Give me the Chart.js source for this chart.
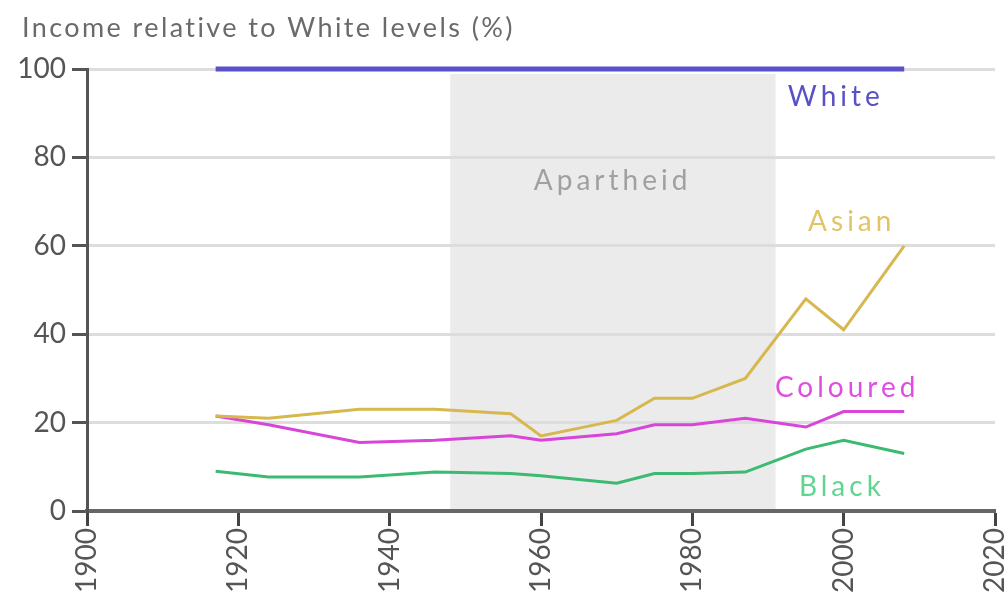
<!DOCTYPE html>
<html lang="en">
<head>
  <meta charset="UTF-8">
  <title>Income relative to White levels</title>
  <script src="https://cdn.jsdelivr.net/npm/chart.js"></script>
  <style>
    body { margin: 0; background: #fff; }
    #wrap { width: 1005px; height: 601px; position: relative; }
  </style>
</head>
<body>
<div id="wrap"><canvas id="incomeChart"></canvas></div>
<script>
  // survey years and income as % of White level
  const years    = [1917, 1924, 1936, 1946, 1956, 1960, 1970, 1975, 1980, 1987, 1995, 2000, 2008];
  const white    = [100, 100, 100, 100, 100, 100, 100, 100, 100, 100, 100, 100, 100];
  const asian    = [21.5, 21, 23, 23, 22, 17, 20.5, 25.5, 25.5, 30, 48, 41, 60];
  const coloured = [21.5, 19.5, 15.5, 16, 17, 16, 17.5, 19.5, 19.5, 21, 19, 22.5, 22.5];
  const black    = [9, 7.7, 7.7, 8.8, 8.5, 8, 6.3, 8.5, 8.5, 8.8, 14, 16, 13];

  const xTicks = [1900, 1920, 1940, 1960, 1980, 2000, 2020];
  const yTicks = [0, 20, 40, 60, 80, 100];
  const apartheid = [1948, 1991];

  // label text, position in data units, colour
  const seriesLabels = [
    { text: 'White', x: 1998.7, y: 93.7, color: '#5a50c8' },
    { text: 'Asian', x: 2000.8, y: 65.4, color: '#e2c466' },
    { text: 'Coloured', x: 2000.2, y: 27.8, color: '#e04ee0' },
    { text: 'Black', x: 1999.5, y: 5.4, color: '#5fd690' },
    { text: 'Apartheid', x: 1969.2, y: 74.7, color: '#a0a0a0' }
  ];

  const FONT = 'Lato, "DejaVu Sans", sans-serif';

  const toPoints = vals => years.map((yr, i) => ({ x: yr, y: vals[i] }));

  // grey band behind everything, grid lines drawn over it
  const bandPlugin = {
    id: 'band',
    beforeDraw(chart) {
      const { ctx, chartArea, scales } = chart;
      const x0 = scales.x.getPixelForValue(apartheid[0]);
      const x1 = scales.x.getPixelForValue(apartheid[1]);
      ctx.save();
      ctx.fillStyle = '#ebebeb';
      ctx.fillRect(x0, chartArea.top + 5, x1 - x0, chartArea.bottom - chartArea.top - 5);
      ctx.restore();
    }
  };

  const labelPlugin = {
    id: 'labels',
    afterDraw(chart) {
      const { ctx, scales } = chart;
      ctx.save();
      ctx.textAlign = 'center';
      ctx.textBaseline = 'middle';
      ctx.font = '28px ' + FONT;
      ctx.letterSpacing = '4px';
      seriesLabels.forEach(l => {
        ctx.fillStyle = l.color;
        ctx.fillText(l.text, scales.x.getPixelForValue(l.x) + 2, scales.y.getPixelForValue(l.y));
      });
      // title
      ctx.textAlign = 'left';
      ctx.fillStyle = '#6a6a6a';
      ctx.font = '27px ' + FONT;
      ctx.letterSpacing = '2.4px';
      ctx.fillText('Income relative to White levels (%)', 22, 28);
      ctx.restore();
    }
  };

  const ctx = document.getElementById('incomeChart').getContext('2d');
  new Chart(ctx, {
    type: 'line',
    data: {
      datasets: [
        { label: 'White', data: toPoints(white), borderColor: '#5a50c8', borderWidth: 5, clip: false },
        { label: 'Black', data: toPoints(black), borderColor: '#3dba72', borderWidth: 3 },
        { label: 'Asian', data: toPoints(asian), borderColor: '#d6b84e', borderWidth: 3 },
        { label: 'Coloured', data: toPoints(coloured), borderColor: '#d845d8', borderWidth: 3 }
      ]
    },
    options: {
      responsive: true,
      maintainAspectRatio: false,
      animation: false,
      elements: { point: { radius: 0 }, line: { tension: 0 } },
      layout: { padding: { top: 69, right: 10, left: 0, bottom: 0 } },
      plugins: { legend: { display: false }, tooltip: { enabled: false } },
      scales: {
        x: {
          type: 'linear',
          min: xTicks[0],
          max: xTicks[xTicks.length - 1],
          afterBuildTicks: s => { s.ticks = xTicks.map(v => ({ value: v })); },
          afterFit: s => { s.height = 90; s.paddingRight = 0; s.paddingLeft = 0; },
          ticks: {
            minRotation: 90, maxRotation: 90,
            color: '#555', font: { size: 28, family: FONT },
            callback: v => String(v), padding: 2
          },
          grid: { drawOnChartArea: false, tickLength: 15, tickColor: '#444', tickWidth: 3 },
          border: { color: '#666', width: 4 }
        },
        y: {
          min: 0, max: 100,
          afterBuildTicks: s => { s.ticks = yTicks.map(v => ({ value: v })); },
          afterFit: s => { s.width = 87; s.paddingTop = 0; s.paddingBottom = 0; },
          ticks: { color: '#555', font: { size: 28, family: FONT }, padding: 6 },
          grid: { color: '#dddddd', lineWidth: 3, tickLength: 15, tickColor: '#555', tickWidth: 3 },
          border: { color: '#555', width: 3 }
        }
      }
    },
    plugins: [bandPlugin, labelPlugin]
  });
</script>
</body>
</html>
